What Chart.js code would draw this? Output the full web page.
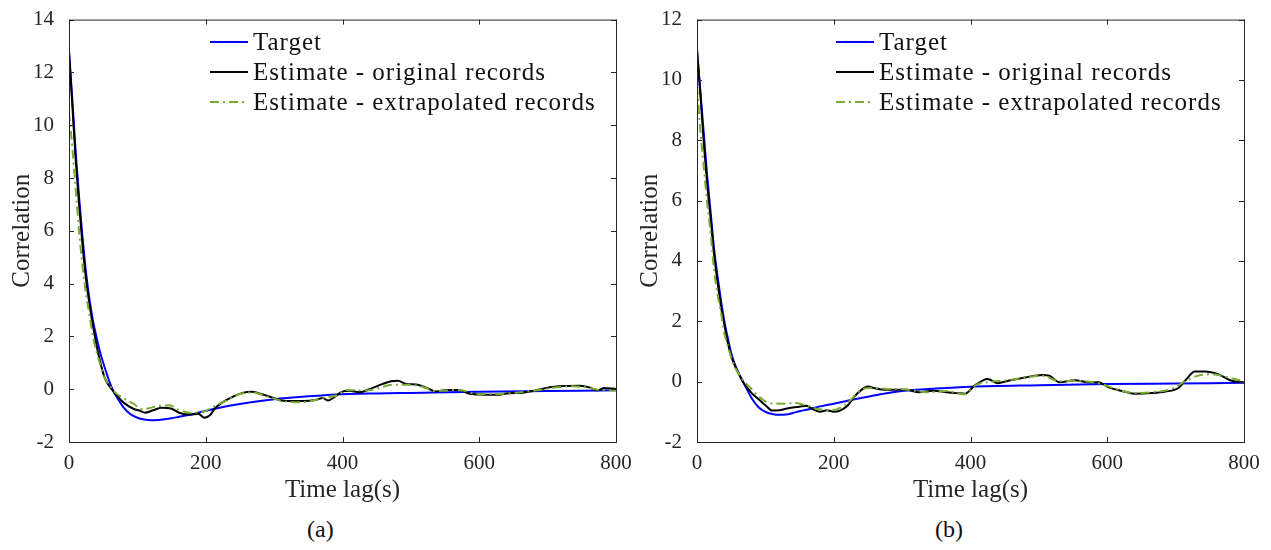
<!DOCTYPE html>
<html>
<head>
<meta charset="utf-8">
<script src="https://cdn.jsdelivr.net/npm/chart.js@4.4.1/dist/chart.umd.min.js"></script>
<style>
  body { margin: 0; background: #fff; width: 1271px; height: 550px; overflow: hidden; position: relative; }
  .panel { position: absolute; top: 0; height: 505px; }
  #panelA { left: 0; width: 640px; }
  #panelB { left: 628px; width: 643px; }
  .caption { position: absolute; top: 516px; font: 24px 'Liberation Serif', serif; color: #111; }
</style>
</head>
<body>
<div class="panel" id="panelA"><canvas id="chartA"></canvas></div>
<div class="panel" id="panelB"><canvas id="chartB"></canvas></div>
<div class="caption" style="left:307px">(a)</div>
<div class="caption" style="left:935px">(b)</div>
<script>
// tick labels
const xTicks = [0, 200, 400, 600, 800];
const yTicksA = [-2, 0, 2, 4, 6, 8, 10, 12, 14];
const yTicksB = [-2, 0, 2, 4, 6, 8, 10, 12];
const seriesNames = ["Target", "Estimate - original records", "Estimate - extrapolated records"];

// (a) target
const lagA_target = [0,5,10,15,20,25,30,35,40,45,50,55,60,65,70,80,90,100,110,120,130,140,150,160,180,200,220,250,300,350,400,450,500,600,700,800];
const corrA_target = [12.8,10.9,8.9,7.2,5.7,4.4,3.4,2.6,2.0,1.45,1.0,0.6,0.22,-0.08,-0.3,-0.7,-0.95,-1.08,-1.15,-1.18,-1.17,-1.14,-1.1,-1.05,-0.95,-0.82,-0.7,-0.56,-0.38,-0.27,-0.19,-0.16,-0.14,-0.1,-0.07,-0.04];
// (a) estimate - original records
const lagA_orig = [0,5,10,15,20,25,30,35,40,45,52,58,64,72,79,94,104,111,123,135,150,162,177,189,198,206,213,225,240,254,267,281,296,311,328,342,362,371,379,388,398,410,425,444,459,471,481,493,510,523,537,552,571,583,600,625,644,664,683,703,727,747,761,773,783,800];
const corrA_orig = [12.8,10.7,8.6,6.9,5.4,4.15,3.2,2.4,1.7,1.1,0.45,0.15,-0.05,-0.3,-0.49,-0.74,-0.82,-0.89,-0.8,-0.7,-0.74,-0.9,-0.96,-0.93,-1.08,-0.99,-0.74,-0.49,-0.28,-0.14,-0.1,-0.18,-0.3,-0.43,-0.45,-0.45,-0.4,-0.33,-0.43,-0.3,-0.11,-0.06,-0.11,0.05,0.2,0.3,0.32,0.2,0.17,0.05,-0.09,-0.03,-0.03,-0.15,-0.2,-0.21,-0.15,-0.13,-0.05,0.07,0.12,0.13,0.07,-0.05,0.05,0.01];
// (a) estimate - extrapolated records
const lagA_extra = [0,5,10,15,20,25,30,35,40,45,50,55,60,67,79,94,108,117,128,147,162,177,196,210,230,250,267,293,313,337,357,371,391,405,425,444,474,493,512,537,561,576,596,625,654,688,713,737,756,776,800];
const corrA_extra = [10.5,9.1,7.5,5.9,4.6,3.6,2.8,2.0,1.45,1.0,0.57,0.3,0.12,-0.11,-0.33,-0.55,-0.76,-0.72,-0.65,-0.61,-0.8,-0.89,-0.86,-0.68,-0.43,-0.18,-0.12,-0.3,-0.45,-0.49,-0.43,-0.33,-0.24,-0.03,-0.05,-0.02,0.17,0.17,0.13,-0.07,-0.03,-0.05,-0.18,-0.18,-0.13,-0.03,0.07,0.11,0.07,-0.03,-0.05];

// (b) target
const lagB_target = [0,5,10,15,20,25,30,35,40,45,50,55,60,65,70,80,90,100,110,120,130,140,150,160,180,200,225,250,275,300,350,400,500,600,700,800];
const corrB_target = [11.0,9.6,8.2,6.8,5.6,4.4,3.5,2.7,2.0,1.45,0.95,0.6,0.33,0.1,-0.12,-0.55,-0.85,-1.0,-1.07,-1.1,-1.09,-1.04,-0.98,-0.93,-0.82,-0.73,-0.61,-0.5,-0.39,-0.31,-0.23,-0.17,-0.12,-0.08,-0.06,-0.04];
// (b) estimate - original records
const lagB_orig = [0,5,10,15,20,25,30,35,40,45,50,55,60,65,70,80,90,100,110,120,130,140,150,160,170,180,190,200,210,220,230,240,250,260,275,290,305,325,345,365,380,392,405,425,440,455,480,505,515,530,553,572,587,602,620,640,665,685,704,716,728,743,762,782,800];
const corrB_orig = [11.0,9.5,7.9,6.5,5.4,4.2,3.3,2.5,1.9,1.3,0.85,0.55,0.3,0.08,-0.1,-0.38,-0.58,-0.78,-0.96,-0.95,-0.9,-0.86,-0.83,-0.8,-0.92,-1.0,-0.95,-1.0,-0.95,-0.8,-0.5,-0.28,-0.16,-0.22,-0.27,-0.27,-0.27,-0.35,-0.3,-0.35,-0.38,-0.4,-0.15,0.09,-0.05,0.03,0.14,0.22,0.2,-0.02,0.05,-0.02,-0.02,-0.19,-0.3,-0.4,-0.38,-0.33,-0.21,0.09,0.34,0.34,0.25,0.03,-0.02];
// (b) estimate - extrapolated records
const lagB_extra = [0,5,10,15,20,25,30,35,40,45,50,55,60,65,70,80,90,100,110,125,145,160,175,195,210,225,240,253,278,307,336,365,390,409,424,456,480,504,531,553,587,616,641,665,694,714,733,753,777,800];
const corrB_extra = [9.8,8.3,7.1,5.9,4.9,3.7,2.9,2.3,1.6,1.2,0.8,0.5,0.3,0.12,-0.02,-0.25,-0.48,-0.65,-0.72,-0.73,-0.71,-0.79,-0.9,-0.95,-0.86,-0.6,-0.27,-0.21,-0.24,-0.26,-0.35,-0.31,-0.42,-0.1,-0.02,0.05,0.14,0.2,0.01,0.03,-0.05,-0.27,-0.38,-0.35,-0.24,0.01,0.2,0.25,0.14,0.01];

const seriesColors = ["#0000ff", "#000000", "#77ac30"];
const seriesDash = [[], [], [9, 4, 2, 4]];
const drawOrder = [2, 1, 0]; // higher is drawn first
const AXIS = "#262626";

Chart.defaults.font.family = "'Liberation Serif', serif";
Chart.defaults.font.size = 21;
Chart.defaults.color = AXIS;

function toPoints(xs, ys) {
  return xs.map((x, i) => ({ x: x, y: ys[i] }));
}

// box around the plot, inward ticks on all four sides, and the legend in the corner
const framePlugin = {
  id: "frame",
  afterDatasetsDraw(chart, args, opts) {
    const ctx = chart.ctx;
    const a = chart.chartArea;
    const xs = chart.scales.x, ys = chart.scales.y;
    ctx.save();
    ctx.strokeStyle = AXIS;
    ctx.lineWidth = 1;
    ctx.strokeRect(a.left + 0.5, a.top + 0.5, a.right - a.left, a.bottom - a.top);
    ctx.beginPath();
    xs.ticks.forEach(t => {
      const px = Math.round(xs.getPixelForValue(t.value)) + 0.5;
      ctx.moveTo(px, a.bottom); ctx.lineTo(px, a.bottom - 5);
      ctx.moveTo(px, a.top); ctx.lineTo(px, a.top + 5);
    });
    ys.ticks.forEach(t => {
      const py = Math.round(ys.getPixelForValue(t.value)) + 0.5;
      ctx.moveTo(a.left, py); ctx.lineTo(a.left + 5, py);
      ctx.moveTo(a.right, py); ctx.lineTo(a.right - 5, py);
    });
    ctx.stroke();

    // legend
    ctx.font = "25px 'Liberation Serif', serif";
    ctx.letterSpacing = "1px";
    ctx.textBaseline = "middle";
    ctx.textAlign = "left";
    chart.data.datasets.forEach((ds, i) => {
      const y = opts.y + i * 30;
      ctx.strokeStyle = ds.borderColor;
      ctx.lineWidth = 2;
      ctx.setLineDash(ds.borderDash || []);
      ctx.beginPath();
      ctx.moveTo(opts.x, y); ctx.lineTo(opts.x + 38, y);
      ctx.stroke();
      ctx.setLineDash([]);
      ctx.fillStyle = "#111";
      ctx.fillText(ds.label, opts.x + 43, y + 1);
    });
    ctx.restore();
  }
};

function makeChart(id, sets, yTicks, rightPad, legendX) {
  const ctx = document.getElementById(id).getContext("2d");
  return new Chart(ctx, {
    type: "line",
    data: {
      datasets: sets.map((s, i) => ({
        label: seriesNames[i],
        data: toPoints(s[0], s[1]),
        borderColor: seriesColors[i],
        backgroundColor: seriesColors[i],
        borderDash: seriesDash[i],
        borderWidth: 2,
        pointRadius: 0,
        fill: false,
        order: drawOrder[i],
        cubicInterpolationMode: "monotone",
      })),
    },
    options: {
      responsive: true,
      maintainAspectRatio: false,
      animation: false,
      layout: { padding: { top: 15, right: rightPad, bottom: 0, left: 0 } },
      plugins: {
        legend: { display: false },
        tooltip: { enabled: false },
        frame: { x: legendX, y: 42 },
      },
      scales: {
        x: {
          type: "linear",
          min: 0, max: 800,
          grid: { display: false },
          border: { display: false },
          afterBuildTicks: sc => { sc.ticks = xTicks.map(v => ({ value: v })); },
          afterFit: sc => { sc.height = 63; },
          ticks: { padding: 1, maxRotation: 0 },
          title: { display: true, text: "Time lag(s)", font: { size: 25 }, padding: { top: 0, bottom: 0 } },
        },
        y: {
          min: yTicks[0], max: yTicks[yTicks.length - 1],
          grid: { display: false },
          border: { display: false },
          afterBuildTicks: sc => { sc.ticks = yTicks.map(v => ({ value: v })); },
          afterFit: sc => { sc.width = 69; },
          ticks: { padding: 7 },
          title: { display: true, text: "Correlation", font: { size: 25 }, padding: { top: 7, bottom: 0 } },
        },
      },
    },
    plugins: [framePlugin],
  });
}

const chartA = makeChart("chartA",
  [[lagA_target, corrA_target], [lagA_orig, corrA_orig], [lagA_extra, corrA_extra]],
  yTicksA, 24, 210);
const chartB = makeChart("chartB",
  [[lagB_target, corrB_target], [lagB_orig, corrB_orig], [lagB_extra, corrB_extra]],
  yTicksB, 27, 208);
</script>
</body>
</html>
